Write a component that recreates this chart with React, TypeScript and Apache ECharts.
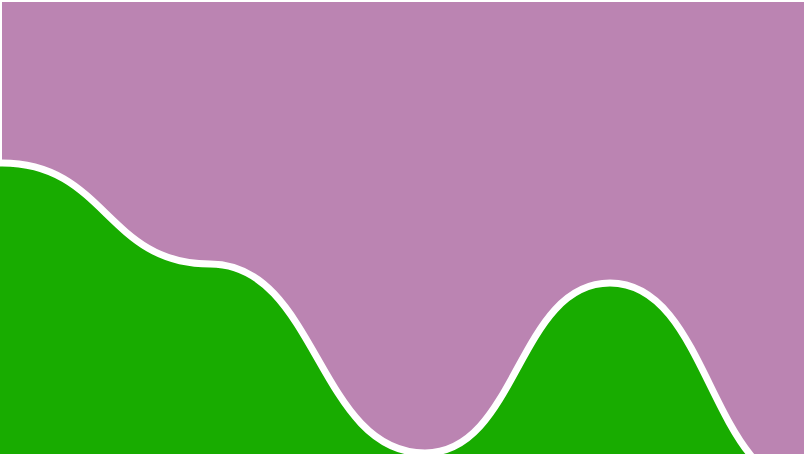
import React, { useEffect, useRef } from 'react';
import * as echarts from 'echarts';

// positions along the x axis (value axis) and the heights of the curve;
// the first and last points lie outside the visible range, so the curve runs on past both edges
const xValues = [-2, 0, 2.08, 4.23, 6.08, 8.08, 10.1];
const yValues = [75, 67.8, 47.6, 9.8, 43.8, 3, 20];

const bgColor = '#bb84b2';
const fillColor = '#18ac00';

const App = () => {
    const chartRef = useRef<HTMLDivElement>(null);

    useEffect(() => {
        document.documentElement.style.overflow = 'hidden';
        document.body.style.overflow = 'hidden';
        let myChart: any = null;
        if (chartRef.current) {
            myChart = echarts.init(chartRef.current, null, { renderer: 'svg' });
            const option = {
                animation: false,
                grid: {
                    left: 2,
                    top: 2,
                    right: 0,
                    bottom: 0,
                    show: true,
                    backgroundColor: bgColor,
                    borderWidth: 0,
                },
                xAxis: {
                    type: 'value',
                    min: 0,
                    max: 8.1,
                    show: false,
                    splitLine: { show: false },
                },
                yAxis: {
                    type: 'value',
                    min: 0,
                    max: 100,
                    show: false,
                    splitLine: { show: false },
                },
                series: [
                    {
                        type: 'line',
                        data: xValues.map((x, i) => [x, yValues[i]]),
                        smooth: true,
                        smoothMonotone: 'x',
                        showSymbol: false,
                        clip: true,
                        lineStyle: { color: '#ffffff', width: 7 },
                        areaStyle: { color: fillColor, opacity: 1 },
                    },
                ],
            };
            myChart.setOption(option);
        }
        return () => {
            if (myChart !== null) {
                myChart.dispose();
            }
        };
    }, []);

    return (
        <div
            ref={chartRef}
            style={{ position: 'fixed', left: 0, top: 0, width: 812, height: 502 }}
        ></div>
    );
};

export default App;
